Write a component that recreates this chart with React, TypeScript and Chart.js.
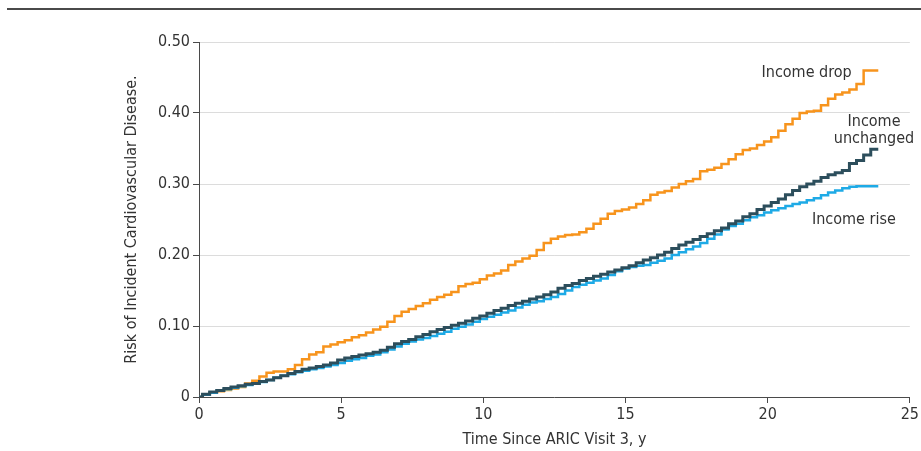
import React, { useEffect, useRef } from "react";
import { Chart, registerables } from "chart.js";

Chart.register(...registerables);

// Time since ARIC visit 3 (years)
const times = [
  0, 0.25, 0.5, 0.75, 1, 1.25, 1.5, 1.75,
  2, 2.25, 2.5, 2.75, 3, 3.25, 3.5, 3.75,
  4, 4.25, 4.5, 4.75, 5, 5.25, 5.5, 5.75,
  6, 6.25, 6.5, 6.75, 7, 7.25, 7.5, 7.75,
  8, 8.25, 8.5, 8.75, 9, 9.25, 9.5, 9.75,
  10, 10.25, 10.5, 10.75, 11, 11.25, 11.5, 11.75,
  12, 12.25, 12.5, 12.75, 13, 13.25, 13.5, 13.75,
  14, 14.25, 14.5, 14.75, 15, 15.25, 15.5, 15.75,
  16, 16.25, 16.5, 16.75, 17, 17.25, 17.5, 17.75,
  18, 18.25, 18.5, 18.75, 19, 19.25, 19.5, 19.75,
  20, 20.25, 20.5, 20.75, 21, 21.25, 21.5, 21.75,
  22, 22.25, 22.5, 22.75, 23, 23.25, 23.5, 23.75,
  23.89,
];

const incomeUnchanged = [
  0, 0.004, 0.007, 0.009, 0.012, 0.014, 0.016, 0.018,
  0.019, 0.022, 0.024, 0.027, 0.03, 0.033, 0.036, 0.039,
  0.041, 0.043, 0.045, 0.048, 0.052, 0.055, 0.057, 0.059,
  0.061, 0.063, 0.066, 0.07, 0.075, 0.078, 0.081, 0.085,
  0.088, 0.092, 0.095, 0.098, 0.101, 0.104, 0.107, 0.111,
  0.114, 0.118, 0.122, 0.125, 0.129, 0.132, 0.135, 0.138,
  0.141, 0.144, 0.148, 0.153, 0.157, 0.16, 0.164, 0.167,
  0.17, 0.173, 0.176, 0.179, 0.182, 0.185, 0.189, 0.193,
  0.196, 0.2, 0.204, 0.209, 0.214, 0.218, 0.222, 0.226,
  0.23, 0.234, 0.238, 0.244, 0.248, 0.254, 0.258, 0.264,
  0.269, 0.274, 0.279, 0.285, 0.291, 0.296, 0.3, 0.304,
  0.309, 0.313, 0.316, 0.319, 0.329, 0.333, 0.341, 0.349,
  0.349,
];

const incomeRise = [
  0, 0.003, 0.006, 0.009, 0.011, 0.013, 0.015, 0.017,
  0.019, 0.021, 0.024, 0.027, 0.03, 0.032, 0.035, 0.037,
  0.039, 0.041, 0.043, 0.045, 0.048, 0.051, 0.053, 0.055,
  0.058, 0.06, 0.063, 0.067, 0.071, 0.075, 0.078, 0.081,
  0.083, 0.086, 0.089, 0.092, 0.096, 0.099, 0.102, 0.106,
  0.11, 0.113, 0.116, 0.119, 0.122, 0.126, 0.13, 0.133,
  0.135, 0.138, 0.141, 0.145, 0.15, 0.155, 0.158, 0.161,
  0.164, 0.167, 0.172, 0.177, 0.181, 0.183, 0.185, 0.186,
  0.189, 0.192, 0.195, 0.2, 0.204, 0.208, 0.212, 0.217,
  0.223, 0.229, 0.236, 0.241, 0.244, 0.249, 0.253, 0.256,
  0.26, 0.263, 0.266, 0.269, 0.272, 0.274, 0.277, 0.28,
  0.284, 0.288, 0.291, 0.294, 0.296, 0.297, 0.297, 0.297,
  0.297,
];

const incomeDrop = [
  0, 0.003, 0.006, 0.008, 0.01, 0.012, 0.014, 0.019,
  0.023, 0.029, 0.034, 0.036, 0.036, 0.039, 0.045, 0.053,
  0.06, 0.063, 0.071, 0.074, 0.077, 0.08, 0.084, 0.087,
  0.091, 0.095, 0.099, 0.106, 0.114, 0.12, 0.124, 0.128,
  0.132, 0.137, 0.141, 0.144, 0.148, 0.156, 0.159, 0.161,
  0.166, 0.171, 0.174, 0.178, 0.186, 0.191, 0.195, 0.199,
  0.207, 0.217, 0.223, 0.226, 0.228, 0.229, 0.232, 0.237,
  0.244, 0.251, 0.258, 0.262, 0.264, 0.267, 0.272, 0.277,
  0.285, 0.288, 0.29, 0.295, 0.3, 0.304, 0.307, 0.318,
  0.32, 0.323, 0.328, 0.335, 0.342, 0.348, 0.35, 0.355,
  0.36, 0.366, 0.375, 0.384, 0.392, 0.4, 0.402, 0.403,
  0.411, 0.42, 0.426, 0.429, 0.433, 0.441, 0.46, 0.46,
  0.46,
];

const xTickValues = [0, 5, 10, 15, 20, 25];
const yTickValues = [0, 0.1, 0.2, 0.3, 0.4, 0.5];

const seriesNames = ["Income unchanged", "Income rise", "Income drop"];
const seriesLabelLines = [["Income", "unchanged"], ["Income rise"], ["Income drop"]];
const seriesLabelAnchors = [
  { x: 23.74, y: 0.376 },
  { x: 23.03, y: 0.249 },
  { x: 21.37, y: 0.456 },
];

const FONT = "'Liberation Sans Narrow', 'DejaVu Sans Condensed', 'Noto Sans', sans-serif";
const TEXT = "#333333";
const AXIS = "#4a4a4a";

const toPoints = (vals: number[]) => vals.map((v, i) => ({ x: times[i], y: v }));

const labelPlugin = {
  id: "seriesLabels",
  afterDatasetsDraw(chart: any) {
    const { ctx, scales } = chart;
    ctx.save();
    ctx.font = `16px ${FONT}`;
    ctx.fillStyle = TEXT;
    ctx.textAlign = "center";
    ctx.textBaseline = "middle";
    seriesLabelLines.forEach((lines, i) => {
      const a = seriesLabelAnchors[i];
      const px = scales.x.getPixelForValue(a.x);
      const py = scales.y.getPixelForValue(a.y);
      const lh = 17;
      const start = py - ((lines.length - 1) * lh) / 2;
      lines.forEach((l, j) => ctx.fillText(l, px, start + j * lh));
    });
    ctx.restore();
  },
};

export default function App() {
  const ref = useRef<HTMLCanvasElement | null>(null);

  useEffect(() => {
    if (!ref.current) return;
    const chart = new Chart(ref.current, {
      type: "line",
      data: {
        datasets: [
          {
            label: seriesNames[0],
            data: toPoints(incomeUnchanged),
            borderColor: "#2c4e5c",
            borderWidth: 3,
          },
          {
            label: seriesNames[1],
            data: toPoints(incomeRise),
            borderColor: "#1eaae6",
            borderWidth: 2.5,
          },
          {
            label: seriesNames[2],
            data: toPoints(incomeDrop),
            borderColor: "#f7941d",
            borderWidth: 2.5,
          },
        ],
      },
      options: {
        responsive: false,
        animation: false,
        devicePixelRatio: 1,
        elements: {
          point: { radius: 0, hoverRadius: 0 },
          line: { stepped: "middle", tension: 0, fill: false, borderJoinStyle: "miter" },
        },
        layout: { padding: { left: 118, top: 42, right: 11, bottom: 0 } },
        plugins: {
          legend: { display: false },
          tooltip: { enabled: false },
        },
        scales: {
          x: {
            type: "linear",
            min: 0,
            max: 25,
            afterBuildTicks: (s: any) => {
              s.ticks = xTickValues.map((v) => ({ value: v }));
            },
            afterFit: (s: any) => {
              s.height = 54;
            },
            ticks: {
              font: { family: FONT, size: 16 },
              color: TEXT,
              padding: 2,
              maxRotation: 0,
              callback: (v: any) => String(v),
            },
            grid: {
              drawOnChartArea: false,
              drawTicks: true,
              tickLength: 6,
              tickColor: AXIS,
            },
            border: { color: AXIS, width: 1 },
            title: {
              display: true,
              text: "Time Since ARIC Visit 3, y",
              font: { family: FONT, size: 16 },
              color: TEXT,
              padding: { top: 4, bottom: 2 },
            },
          },
          y: {
            type: "linear",
            min: 0,
            max: 0.5,
            afterBuildTicks: (s: any) => {
              s.ticks = yTickValues.map((v) => ({ value: v }));
            },
            afterFit: (s: any) => {
              s.width = 81;
            },
            ticks: {
              font: { family: FONT, size: 16 },
              color: TEXT,
              padding: 3,
              callback: (v: any) => (Number(v) === 0 ? "0" : Number(v).toFixed(2)),
            },
            grid: {
              color: "#dcdcdc",
              lineWidth: 1,
              drawTicks: true,
              tickLength: 6,
              tickColor: AXIS,
            },
            border: { color: AXIS, width: 1 },
            title: {
              display: true,
              text: "Risk of Incident Cardiovascular Disease.",
              font: { family: FONT, size: 16 },
              color: TEXT,
              padding: { top: 4, bottom: 4 },
            },
          },
        },
      },
      plugins: [labelPlugin],
    });
    return () => chart.destroy();
  }, []);

  return (
    <div style={{ position: "fixed", top: 0, left: 0, width: 921, height: 451, overflow: "hidden" }}>
      <div
        style={{
          position: "absolute",
          top: 8,
          left: 7,
          width: 914,
          height: 2,
          background: "#4a4a4a",
        }}
      />
      <canvas
        ref={ref}
        width={921}
        height={451}
        style={{ position: "absolute", top: 0, left: 0, display: "block" }}
      />
    </div>
  );
}
